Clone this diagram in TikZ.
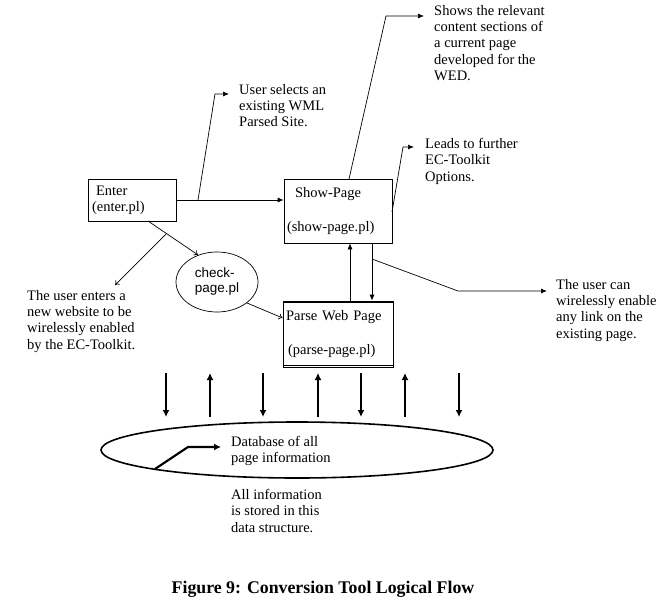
\documentclass[tikz,border=0pt]{standalone}
\usepackage{fontspec}
\setmainfont{Liberation Serif}
\newfontfamily\checkfont{Liberation Sans}
\usetikzlibrary{shapes.geometric, arrows.meta}
\tikzset{
    note/.style={anchor=north west, inner sep=0pt, align=left, font=\fontsize{14.5}{16.3}\selectfont},
    box/.style={draw, rectangle, line width=0.7pt, inner ysep=0pt, align=left, font=\fontsize{14.5}{16.3}\selectfont},
    link/.style={line width=0.7pt},
    tip/.style={-{Latex[length=6pt, width=5pt]}},
    opentip/.style={-{To[length=4pt, width=6pt]}},
    flow/.style={line width=2.2pt, -{Latex[length=7pt, width=7pt]}}
}
\begin{document}
\begin{tikzpicture}[x=1pt, y=-1pt]
\useasboundingbox (0,0) rectangle (669,613);
%boxes
    \node[box, text width=80pt, inner xsep=4pt, minimum height=42pt] (enter) at (132,200) {\hspace{4pt}Enter\\(enter.pl)};
    \node[box, text width=102pt, inner xsep=3pt, minimum height=64pt] (show) at (338,211) {\hspace{8pt}Show-Page\\[17pt](show-page.pl)};
    \node[box, text width=104pt, inner xsep=3pt, minimum height=66pt] (parse) at (338,334) {Parse Web Page\\[17pt]\hspace{2pt}(parse-page.pl)};
    \node[draw, ellipse, line width=0.7pt, minimum width=82pt, minimum height=60pt, inner sep=0pt, align=left, font=\checkfont\fontsize{13.5}{15}\selectfont] (check) at (217,282) {check-\\page.pl};
    \node[draw, ellipse, line width=1.6pt, minimum width=392pt, minimum height=56pt] (dbase) at (297,450) {};
%notes
    \node[note] (usersel) at (239,84) {User selects an\\existing WML\\Parsed Site.};
    \node[note] (shows) at (434,5) {Shows the relevant\\content sections of\\a current page\\developed for the\\WED.};
    \node[note] (leads) at (425,138) {Leads to further\\EC-Toolkit\\Options.};
    \node[note] (userenter) at (27,290) {The user enters a\\new website to be\\wirelessly enabled\\by the EC-Toolkit.};
    \node[note] (usercan) at (556,279) {The user can\\wirelessly enable\\any link on the\\existing page.};
    \node[note] (dbtext) at (231,436) {Database of all\\page information};
    \node[note] (allinfo) at (231,489) {All information\\is stored in this\\data structure.};
    \node[font=\bfseries\fontsize{17.8}{20}\selectfont] (caption) at (323,589) {Figure 9: Conversion Tool Logical Flow};
%coordinate
    \coordinate (b1) at (198,200); \coordinate (b2) at (215,94); \coordinate (b3) at (229,94);
    \coordinate (s1) at (349,179); \coordinate (s2) at (386,16); \coordinate (s3) at (424,16);
    \coordinate (r1) at (392,212); \coordinate (r2) at (403,147); \coordinate (r3) at (414,147);
    \coordinate (e1) at (148,221); \coordinate (e2) at (166,234); \coordinate (e3) at (115,285);
    \coordinate (u1) at (372,259); \coordinate (u2) at (458,291); \coordinate (u3) at (547,291);
    \coordinate (d1) at (155,469); \coordinate (d2) at (188,447); \coordinate (d3) at (221,447);
%connectors
    \draw[link, tip] (enter.east |- b1) -- (show.west |- b1);
    \draw[link, tip] (b1) -- (b2) -- (b3);
    \draw[link, tip] (s1) -- (s2) -- (s3);
    \draw[link, tip] (r1) -- (r2) -- (r3);
    \draw[link, opentip] (e1) -- (check.125); \draw[link, opentip] (e2) -- (e3);
    \draw[link, opentip] (check.-35) -- ([yshift=16pt]parse.west);
    \draw[link, tip] ([xshift=12pt]parse.north) -- ([xshift=12pt]show.south);
    \draw[link, tip] ([xshift=34pt]show.south) -- ([xshift=34pt]parse.north);
    \draw[link, tip] (u1) -- (u2) -- (u3);
    \draw[link] ([yshift=-2pt]parse.north west) -- ([yshift=-2pt]parse.north east);
    \draw[link] ([yshift=2pt]parse.south west) -- ([yshift=2pt]parse.south east);
%database flow
    \draw[flow] (166,373) -- (166,417); \draw[flow] (210,417) -- (210,373);
    \draw[flow] (263,373) -- (263,417); \draw[flow] (318,417) -- (318,373);
    \draw[flow] (361,373) -- (361,417); \draw[flow] (405,417) -- (405,373);
    \draw[flow] (459,373) -- (459,417);
    \draw[flow] (d1) -- (d2) -- (d3);
\end{tikzpicture}
\end{document}
